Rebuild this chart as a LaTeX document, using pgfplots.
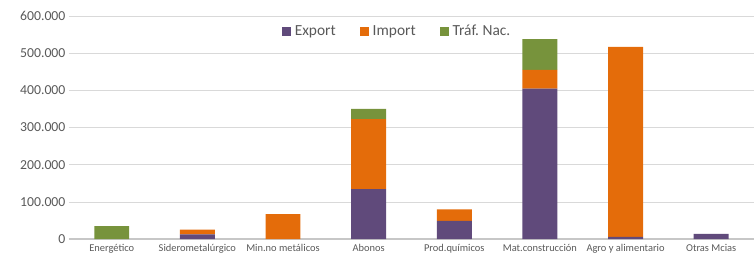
\documentclass[border=0pt]{standalone}
\usepackage{pgfplots}
\pgfplotsset{compat=1.18}
\usepackage{fontspec}
\setmainfont{Carlito}
\frenchspacing
\definecolor{cexp}{HTML}{604A7B}
\definecolor{cimp}{HTML}{E46C0A}
\definecolor{ctra}{HTML}{77933C}
\definecolor{ctxt}{HTML}{595959}
\definecolor{cgrid}{HTML}{D9D9D9}
\begin{document}
\begin{tikzpicture}
\begin{axis}[
  scale only axis,
  width=686bp, height=223.5bp,
  ybar stacked,
  bar width=35bp,
  xmin=-0.5, xmax=7.5,
  ymin=0, ymax=600000,
  ytick={0,100000,200000,300000,400000,500000,600000},
  scaled y ticks=false,
  /pgf/number format/.cd, 1000 sep={.}, fixed, assume math mode=true,
  /pgfplots/.cd,
  xtick={0,1,2,3,4,5,6,7},
  xticklabels={Energético,Siderometalúrgico,Min.no metálicos,Abonos,Prod.químicos,Mat.construcción,Agro y alimentario,Otras Mcias},
  x tick label style={font=\fontsize{10.5}{12}\selectfont, text=ctxt, yshift=-2bp},
  y tick label style={font=\fontsize{13.8}{15}\selectfont, text=ctxt},
  major tick length=0pt,
  axis line style={draw=none},
  ymajorgrids,
  grid style={cgrid, line width=0.9bp},
  extra y ticks={0},
  extra y tick labels={},
  extra y tick style={grid style={cgrid!80!gray, line width=2bp}},
  legend style={draw=none, fill=none, at={(0.479,0.932)}, anchor=center,
    font=\fontsize{15.5}{17}\selectfont, text=ctxt, legend columns=3,
    /tikz/every odd column/.append style={column sep=2bp},
    /tikz/every even column/.append style={column sep=22bp}},
  legend image code/.code={\fill[#1] (0bp,-4.5bp) rectangle (9bp,4.5bp);},
  clip=false,
]
\addplot[fill=cexp, draw=none] coordinates {(0,0) (1,12900) (2,0) (3,134800) (4,48900) (5,404800) (6,6000) (7,14000)};
\addplot[fill=cimp, draw=none] coordinates {(0,0) (1,12600) (2,67600) (3,188000) (4,31000) (5,50000) (6,511000) (7,0)};
\addplot[fill=ctra, draw=none] coordinates {(0,35400) (1,0) (2,0) (3,27600) (4,0) (5,83000) (6,0) (7,0)};
\legend{Export,Import,Tráf. Nac.}
\end{axis}
\path[use as bounding box] (-69bp,-19.5bp) rectangle (686bp,239.5bp);
\end{tikzpicture}
\end{document}
